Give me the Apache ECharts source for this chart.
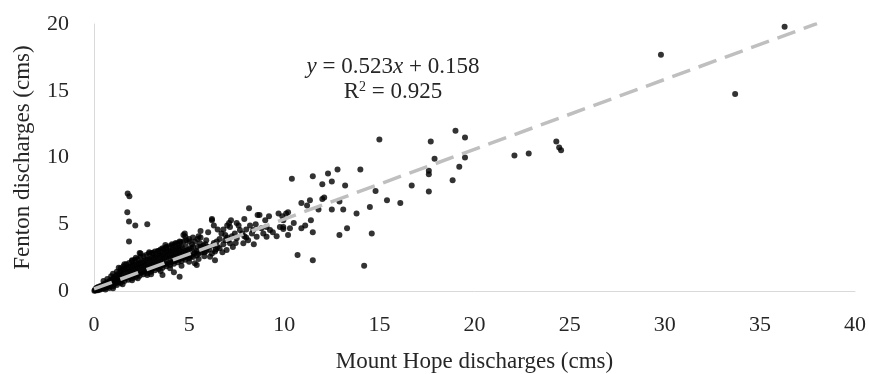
<!DOCTYPE html>
<html>
<head>
<meta charset="utf-8">
<title>Fenton vs Mount Hope discharges</title>
<script src="https://cdn.jsdelivr.net/npm/echarts@6/dist/echarts.min.js"></script>
<style>
  html, body { margin: 0; padding: 0; background: #fff; }
  #chart { width: 869px; height: 374px; }
</style>
</head>
<body>
<div id="chart"></div>
<script>
// axis ticks
const xTicks = [0, 5, 10, 15, 20, 25, 30, 35, 40]
const yTicks = [0, 5, 10, 15, 20]

// dense band near the origin: [Mount Hope, Fenton]
const denseBand = [
  [0.02, 0.02], [0.05, 0.1], [0.08, 0.03], [0.1, 0.18], [0.12, 0.08], [0.15, 0.25], [0.18, 0.12], [0.2, 0.05],
  [0.22, 0.3], [0.25, 0.18], [0.3, 0.1], [0.32, 0.35], [0.35, 0.22], [0.4, 0.15], [0.42, 0.42], [0.45, 0.3],
  [0.5, 0.2], [0.52, 0.5], [0.55, 0.36], [0.6, 0.25], [0.62, 0.58], [0.65, 0.45], [0.7, 0.3], [0.72, 0.65],
  [0.75, 0.5], [0.8, 0.38], [0.82, 0.75], [0.85, 0.6], [0.9, 0.45], [0.92, 0.85], [0.95, 0.68], [1.0, 0.5],
  [1.02, 0.95], [1.05, 0.75], [1.1, 0.55], [1.12, 1.1], [1.15, 0.85], [1.2, 0.62], [1.22, 1.2], [1.25, 0.95],
  [1.3, 0.7], [1.32, 1.35], [1.35, 1.05], [1.4, 0.8], [1.42, 1.5], [1.45, 1.2], [1.5, 0.9], [1.52, 1.6],
  [1.55, 1.3], [1.6, 0.95], [1.62, 1.65], [1.7, 1.0], [1.7, 1.35], [1.72, 1.7], [1.8, 1.05], [1.8, 1.42],
  [1.82, 1.78], [1.9, 1.1], [1.9, 1.45], [1.92, 1.85], [2.0, 1.15], [2.0, 1.5], [2.02, 1.9], [2.1, 1.2],
  [2.1, 1.55], [2.12, 1.95], [2.2, 1.25], [2.2, 1.62], [2.22, 2.0], [2.3, 1.3], [2.3, 1.7], [2.32, 2.05],
  [2.4, 1.35], [2.4, 1.75], [2.42, 2.12], [2.5, 1.4], [2.5, 1.8], [2.52, 2.15], [2.6, 1.45], [2.6, 1.85],
  [2.62, 2.22], [2.7, 1.5], [2.7, 1.9], [2.72, 2.3], [2.8, 1.55], [2.8, 1.95], [2.82, 2.35], [2.9, 1.6],
  [2.9, 2.0], [2.92, 2.4], [3.0, 1.65], [3.0, 2.05], [3.02, 2.45], [3.1, 1.7], [3.1, 2.1], [3.12, 2.5],
  [3.2, 1.75], [3.2, 2.15], [3.22, 2.55], [3.3, 1.8], [3.3, 2.2], [3.32, 2.6], [3.4, 1.85], [3.4, 2.25],
  [3.42, 2.65], [3.5, 1.9], [3.5, 2.3], [3.52, 2.7], [3.6, 1.95], [3.6, 2.35], [3.62, 2.75], [3.7, 2.0],
  [3.7, 2.45], [3.72, 2.85], [3.8, 2.05], [3.8, 2.5], [3.82, 2.9], [3.9, 2.1], [3.9, 2.55], [3.92, 2.95],
  [4.0, 2.15], [4.0, 2.6], [4.02, 3.0], [4.1, 2.2], [4.1, 2.65], [4.12, 3.05], [4.2, 2.25], [4.2, 2.7],
  [4.22, 3.1], [4.3, 2.3], [4.3, 2.75], [4.32, 3.15], [4.4, 2.35], [4.4, 2.8], [4.42, 3.2], [4.5, 2.4],
  [4.5, 2.85], [4.52, 3.25], [4.6, 2.45], [4.6, 2.9], [4.62, 3.3], [4.7, 2.5], [4.7, 2.95], [4.8, 2.55],
  [4.8, 3.0], [4.82, 3.35], [4.9, 2.6], [4.9, 3.05], [5.0, 2.7], [5.0, 3.1]
]

// upper and lower edges of the band
const upperBand = [
  [0.5, 0.75], [0.7, 0.9], [0.9, 1.1], [1.0, 1.3], [1.2, 1.45], [1.4, 1.7], [1.55, 1.85], [1.7, 2.0],
  [1.85, 2.1], [2.0, 2.25], [2.15, 2.35], [2.3, 2.4], [2.45, 2.55], [2.6, 2.6], [2.75, 2.7], [2.9, 2.8],
  [3.05, 2.85], [3.2, 2.95], [3.35, 3.0], [3.5, 3.1], [3.65, 3.15], [3.8, 3.25], [3.95, 3.35], [4.1, 3.4],
  [4.25, 3.5], [4.4, 3.55], [4.55, 3.65], [4.7, 3.7], [4.85, 3.8], [5.0, 3.9], [5.15, 3.5], [5.3, 3.7],
  [5.45, 3.9], [5.6, 4.0], [5.75, 3.4]
]
const lowerBand = [
  [0.6, 0.12], [0.8, 0.22], [1.0, 0.35], [1.2, 0.45], [1.4, 0.6], [1.6, 0.75], [1.8, 0.85], [2.0, 0.95],
  [2.2, 1.05], [2.4, 1.15], [2.6, 1.25], [2.8, 1.35], [3.0, 1.45], [3.2, 1.55], [3.4, 1.65], [3.6, 1.75],
  [3.8, 1.85], [4.0, 1.95], [4.2, 2.05], [4.4, 2.15], [4.6, 2.25], [4.8, 2.35], [5.0, 2.45], [5.2, 2.55],
  [5.4, 2.65]
]

// points scattered around the band, 1 to 10 cms
const fringe = [
  [1.3, 1.75], [1.6, 2.0], [2.0, 2.3], [2.2, 2.5], [2.45, 2.8], [2.9, 2.9], [3.1, 2.85], [3.4, 3.0],
  [3.6, 3.2], [3.8, 3.3], [3.75, 3.45], [4.1, 3.5], [4.3, 3.6], [4.5, 3.7], [4.77, 4.3], [4.8, 4.07],
  [1.0, 0.2], [1.5, 0.5], [2.0, 0.8], [2.3, 0.95], [2.8, 1.2], [3.0, 1.25], [3.5, 1.5], [3.6, 1.2],
  [4.0, 1.7], [4.2, 1.4], [4.5, 1.07], [4.6, 1.9], [5.0, 2.2], [5.3, 2.07], [5.4, 1.95], [5.5, 2.4],
  [5.8, 2.6], [5.0, 3.7], [5.2, 3.3], [5.57, 3.57], [5.9, 3.8], [6.2, 5.4], [6.2, 5.3], [6.7, 4.3],
  [5.5, 2.8], [5.7, 3.1], [5.8, 2.9], [6.0, 3.3], [6.3, 3.6], [6.6, 3.9], [6.8, 3.5], [5.3, 2.9],
  [5.6, 3.3], [6.4, 3.1], [7.0, 4.0], [7.3, 3.3], [5.1, 2.6], [5.4, 3.0], [5.9, 3.0], [6.2, 2.8],
  [6.9, 3.8], [7.4, 4.3], [7.9, 4.1], [8.4, 3.5], [8.8, 4.7], [9.4, 4.4], [9.6, 4.1], [8.0, 4.6],
  [5.2, 4.0], [5.5, 4.1], [6.0, 4.4], [6.5, 4.6], [6.97, 3.07], [6.5, 3.3], [6.36, 2.95], [6.1, 2.57],
  [6.36, 2.3], [7.15, 3.57], [7.5, 3.95], [7.85, 3.57], [8.1, 3.8], [8.55, 4.07], [8.2, 4.9], [8.37, 4.57],
  [8.9, 4.3], [9.07, 4.8], [9.25, 4.57], [9.07, 4.07], [7.15, 4.8], [7.67, 4.57], [9.77, 4.8], [9.95, 5.3],
  [7.1, 5.1], [7.5, 5.1], [8.15, 6.2], [8.7, 5.7], [9.2, 5.6], [9.0, 5.3], [9.7, 5.8], [10.1, 5.8],
  [5.1, 3.2], [5.25, 2.8], [5.45, 3.3], [5.65, 2.9], [5.85, 3.5], [6.05, 3.1], [6.25, 3.4], [6.45, 3.7],
  [6.6, 3.2], [6.75, 2.9], [6.9, 4.2], [7.05, 3.8], [7.25, 4.1], [7.45, 3.6], [7.6, 4.9], [7.8, 4.3],
  [8.0, 4.0], [8.3, 4.3], [8.5, 5.0], [5.6, 4.5], [6.3, 4.9], [6.8, 4.6], [7.2, 5.3], [7.9, 5.4],
  [4.7, 4.2], [7.0, 4.9], [8.6, 5.7]
]

// spike of high Fenton values at low Mount Hope flow
const spike = [
  [1.77, 7.3], [1.86, 7.1], [1.75, 5.9], [1.84, 5.2], [2.17, 4.9], [2.8, 5.0], [1.84, 3.7], [2.4, 2.85]
]

// sparse high-flow points
const highFlow = [
  [36.3, 19.8], [29.8, 17.7], [33.7, 14.75], [24.3, 11.2], [24.45, 10.75], [24.55, 10.55], [22.85, 10.3], [22.1, 10.15],
  [15.0, 11.35], [17.7, 11.2], [19.0, 12.0], [19.5, 11.5], [17.9, 9.9], [19.5, 10.0], [19.2, 9.3], [18.85, 8.3],
  [17.6, 9.0], [17.6, 8.75], [17.6, 7.45], [16.7, 7.9], [16.1, 6.6], [15.4, 6.8], [14.8, 7.5], [14.5, 6.3],
  [14.6, 4.3], [14.2, 1.9], [14.0, 9.1], [13.8, 5.8], [13.3, 4.7], [12.9, 4.2], [13.1, 6.1], [13.2, 7.9],
  [12.8, 9.1], [12.3, 8.8], [12.5, 8.2], [12.0, 8.0], [11.5, 8.6], [10.4, 8.4], [12.9, 6.7], [12.5, 6.1],
  [12.0, 6.9], [12.1, 7.0], [11.8, 6.1], [11.5, 4.4], [11.5, 2.3], [10.7, 2.7], [11.4, 5.3], [11.1, 4.9],
  [10.9, 4.7], [11.35, 6.8], [10.9, 6.6], [11.2, 6.4], [10.2, 4.2], [10.5, 5.1], [10.3, 4.7], [9.95, 4.8],
  [9.95, 4.65], [10.2, 5.9], [9.9, 5.6]
]

// linear trendline from the label on the chart
const slope = 0.523
const intercept = 0.158
const trendX = [0, 38]

const chart = echarts.init(document.getElementById('chart'))

const serif = "'Liberation Serif', 'Times New Roman', serif"
const textColor = '#262626'

const points = denseBand.concat(upperBand, lowerBand, fringe, spike, highFlow)
const trendData = trendX.map(x => [x, slope * x + intercept])

chart.setOption({
  animation: false,
  backgroundColor: '#fff',
  grid: {
    left: 94,
    right: 14,
    top: 24,
    bottom: 83,
    outerBoundsMode: 'none'
  },
  xAxis: {
    type: 'value',
    min: xTicks[0],
    max: xTicks[xTicks.length - 1],
    interval: 5,
    name: 'Mount Hope discharges (cms)',
    nameLocation: 'middle',
    nameGap: 59,
    nameTextStyle: { fontFamily: serif, fontSize: 23, color: textColor },
    axisLine: { show: true, lineStyle: { color: '#d9d9d9', width: 1 } },
    axisTick: { show: false },
    splitLine: { show: false },
    axisLabel: { fontFamily: serif, fontSize: 22, color: textColor, margin: 23 }
  },
  yAxis: {
    type: 'value',
    min: yTicks[0],
    max: yTicks[yTicks.length - 1],
    interval: 5,
    name: 'Fenton discharges (cms)',
    nameLocation: 'middle',
    nameGap: 60,
    nameTextStyle: { fontFamily: serif, fontSize: 23, color: textColor },
    axisLine: { show: true, lineStyle: { color: '#d9d9d9', width: 1 } },
    axisTick: { show: false },
    splitLine: { show: false },
    axisLabel: { fontFamily: serif, fontSize: 22, color: textColor, margin: 25 }
  },
  series: [
    {
      name: 'discharges',
      type: 'scatter',
      data: points,
      symbol: 'circle',
      symbolSize: 6,
      itemStyle: { color: '#000' },
      z: 2
    },
    {
      name: 'trend',
      type: 'line',
      data: trendData,
      symbol: 'none',
      lineStyle: { color: '#bfbfbf', width: 3.5, type: [19, 9] },
      z: 3
    }
  ],
  graphic: [
    {
      type: 'text',
      x: 393,
      y: 67,
      style: {
        text: '{i|y} = 0.523{i|x} + 0.158',
        font: '23px ' + serif,
        fill: textColor,
        align: 'center',
        verticalAlign: 'middle',
        rich: {
          i: { fontStyle: 'italic', fontFamily: serif, fontSize: 23, fill: textColor }
        }
      }
    },
    {
      type: 'text',
      x: 393,
      y: 92,
      style: {
        text: 'R{sup|2} = 0.925',
        font: '23px ' + serif,
        fill: textColor,
        align: 'center',
        verticalAlign: 'middle',
        rich: {
          sup: { fontFamily: serif, fontSize: 14, fill: textColor, verticalAlign: 'top', padding: [0, 0, 8, 0] }
        }
      }
    }
  ]
})
</script>
</body>
</html>
